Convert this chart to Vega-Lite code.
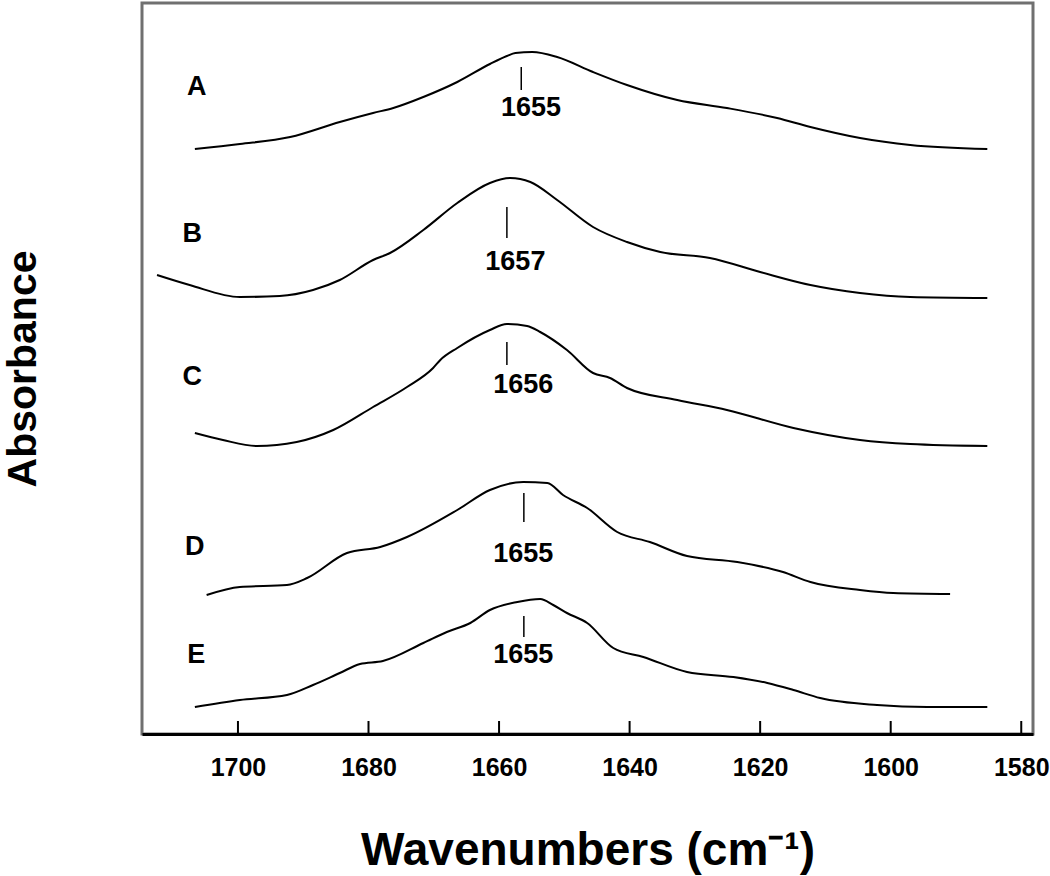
{
  "$schema": "https://vega.github.io/schema/vega-lite/v6.json",
  "autosize": "none",
  "width": 891,
  "height": 731,
  "padding": {"left": 142, "top": 3, "right": 17, "bottom": 142},
  "background": "white",
  "config": {
    "font": "Liberation Sans",
    "view": {"stroke": null},
    "axis": {"grid": false}
  },
  "datasets": {
    "curves": [
      {"series": "A", "wn": 1706.6, "abs": 5.85},
      {"series": "A", "wn": 1699.7, "abs": 5.90},
      {"series": "A", "wn": 1692.0, "abs": 5.97},
      {"series": "A", "wn": 1684.4, "abs": 6.12},
      {"series": "A", "wn": 1679.3, "abs": 6.21},
      {"series": "A", "wn": 1676.2, "abs": 6.26},
      {"series": "A", "wn": 1671.6, "abs": 6.37},
      {"series": "A", "wn": 1666.4, "abs": 6.52},
      {"series": "A", "wn": 1661.4, "abs": 6.70},
      {"series": "A", "wn": 1658.8, "abs": 6.78},
      {"series": "A", "wn": 1657.5, "abs": 6.81},
      {"series": "A", "wn": 1654.9, "abs": 6.82},
      {"series": "A", "wn": 1651.1, "abs": 6.77},
      {"series": "A", "wn": 1645.6, "abs": 6.62},
      {"series": "A", "wn": 1640.4, "abs": 6.49},
      {"series": "A", "wn": 1632.7, "abs": 6.34},
      {"series": "A", "wn": 1625.1, "abs": 6.26},
      {"series": "A", "wn": 1617.4, "abs": 6.16},
      {"series": "A", "wn": 1612.3, "abs": 6.07},
      {"series": "A", "wn": 1604.7, "abs": 5.96},
      {"series": "A", "wn": 1597.0, "abs": 5.89},
      {"series": "A", "wn": 1585.2, "abs": 5.85},

      {"series": "B", "wn": 1712.4, "abs": 4.59},
      {"series": "B", "wn": 1707.4, "abs": 4.49},
      {"series": "B", "wn": 1699.7, "abs": 4.37},
      {"series": "B", "wn": 1693.6, "abs": 4.38},
      {"series": "B", "wn": 1688.5, "abs": 4.44},
      {"series": "B", "wn": 1684.4, "abs": 4.54},
      {"series": "B", "wn": 1679.3, "abs": 4.74},
      {"series": "B", "wn": 1676.7, "abs": 4.81},
      {"series": "B", "wn": 1671.6, "abs": 5.04},
      {"series": "B", "wn": 1666.4, "abs": 5.31},
      {"series": "B", "wn": 1661.4, "abs": 5.51},
      {"series": "B", "wn": 1658.3, "abs": 5.56},
      {"series": "B", "wn": 1655.2, "abs": 5.52},
      {"series": "B", "wn": 1651.1, "abs": 5.34},
      {"series": "B", "wn": 1645.6, "abs": 5.07},
      {"series": "B", "wn": 1640.4, "abs": 4.92},
      {"series": "B", "wn": 1635.3, "abs": 4.82},
      {"series": "B", "wn": 1627.7, "abs": 4.76},
      {"series": "B", "wn": 1620.0, "abs": 4.62},
      {"series": "B", "wn": 1612.3, "abs": 4.49},
      {"series": "B", "wn": 1604.7, "abs": 4.41},
      {"series": "B", "wn": 1597.0, "abs": 4.37},
      {"series": "B", "wn": 1585.2, "abs": 4.36},

      {"series": "C", "wn": 1706.6, "abs": 3.01},
      {"series": "C", "wn": 1702.3, "abs": 2.94},
      {"series": "C", "wn": 1697.1, "abs": 2.88},
      {"series": "C", "wn": 1691.0, "abs": 2.92},
      {"series": "C", "wn": 1685.4, "abs": 3.04},
      {"series": "C", "wn": 1679.3, "abs": 3.27},
      {"series": "C", "wn": 1674.1, "abs": 3.47},
      {"series": "C", "wn": 1670.1, "abs": 3.66},
      {"series": "C", "wn": 1669.0, "abs": 3.74},
      {"series": "C", "wn": 1666.4, "abs": 3.86},
      {"series": "C", "wn": 1661.4, "abs": 4.04},
      {"series": "C", "wn": 1658.8, "abs": 4.10},
      {"series": "C", "wn": 1655.7, "abs": 4.08},
      {"series": "C", "wn": 1653.7, "abs": 4.02},
      {"series": "C", "wn": 1649.6, "abs": 3.84},
      {"series": "C", "wn": 1645.6, "abs": 3.61},
      {"series": "C", "wn": 1643.0, "abs": 3.56},
      {"series": "C", "wn": 1640.4, "abs": 3.46},
      {"series": "C", "wn": 1632.7, "abs": 3.34},
      {"series": "C", "wn": 1625.1, "abs": 3.24},
      {"series": "C", "wn": 1614.9, "abs": 3.06},
      {"series": "C", "wn": 1604.7, "abs": 2.94},
      {"series": "C", "wn": 1597.0, "abs": 2.90},
      {"series": "C", "wn": 1585.2, "abs": 2.88},

      {"series": "D", "wn": 1704.8, "abs": 1.39},
      {"series": "D", "wn": 1699.7, "abs": 1.47},
      {"series": "D", "wn": 1692.5, "abs": 1.49},
      {"series": "D", "wn": 1689.4, "abs": 1.56},
      {"series": "D", "wn": 1683.3, "abs": 1.81},
      {"series": "D", "wn": 1678.2, "abs": 1.87},
      {"series": "D", "wn": 1674.1, "abs": 1.97},
      {"series": "D", "wn": 1666.4, "abs": 2.24},
      {"series": "D", "wn": 1661.4, "abs": 2.44},
      {"series": "D", "wn": 1656.3, "abs": 2.52},
      {"series": "D", "wn": 1652.6, "abs": 2.51},
      {"series": "D", "wn": 1650.2, "abs": 2.39},
      {"series": "D", "wn": 1646.5, "abs": 2.26},
      {"series": "D", "wn": 1641.9, "abs": 2.02},
      {"series": "D", "wn": 1636.9, "abs": 1.92},
      {"series": "D", "wn": 1631.2, "abs": 1.78},
      {"series": "D", "wn": 1623.5, "abs": 1.72},
      {"series": "D", "wn": 1616.5, "abs": 1.62},
      {"series": "D", "wn": 1612.3, "abs": 1.52},
      {"series": "D", "wn": 1604.7, "abs": 1.44},
      {"series": "D", "wn": 1599.6, "abs": 1.41},
      {"series": "D", "wn": 1590.9, "abs": 1.40},

      {"series": "E", "wn": 1706.6, "abs": 0.27},
      {"series": "E", "wn": 1699.7, "abs": 0.34},
      {"series": "E", "wn": 1692.5, "abs": 0.39},
      {"series": "E", "wn": 1688.5, "abs": 0.49},
      {"series": "E", "wn": 1684.4, "abs": 0.61},
      {"series": "E", "wn": 1681.3, "abs": 0.70},
      {"series": "E", "wn": 1677.8, "abs": 0.73},
      {"series": "E", "wn": 1671.6, "abs": 0.91},
      {"series": "E", "wn": 1668.0, "abs": 1.02},
      {"series": "E", "wn": 1664.4, "abs": 1.11},
      {"series": "E", "wn": 1661.4, "abs": 1.24},
      {"series": "E", "wn": 1657.2, "abs": 1.32},
      {"series": "E", "wn": 1653.7, "abs": 1.35},
      {"series": "E", "wn": 1651.7, "abs": 1.29},
      {"series": "E", "wn": 1649.6, "abs": 1.21},
      {"series": "E", "wn": 1646.5, "abs": 1.11},
      {"series": "E", "wn": 1642.5, "abs": 0.86},
      {"series": "E", "wn": 1637.9, "abs": 0.77},
      {"series": "E", "wn": 1631.2, "abs": 0.62},
      {"series": "E", "wn": 1624.1, "abs": 0.57},
      {"series": "E", "wn": 1618.9, "abs": 0.51},
      {"series": "E", "wn": 1614.9, "abs": 0.44},
      {"series": "E", "wn": 1610.8, "abs": 0.36},
      {"series": "E", "wn": 1602.1, "abs": 0.29},
      {"series": "E", "wn": 1594.4, "abs": 0.27},
      {"series": "E", "wn": 1585.2, "abs": 0.27}
    ],
    "markers": [
      {"series": "A", "wn": 1656.6, "top": 6.67, "bottom": 6.44},
      {"series": "B", "wn": 1658.8, "top": 5.27, "bottom": 4.96},
      {"series": "C", "wn": 1658.8, "top": 3.92, "bottom": 3.69},
      {"series": "D", "wn": 1656.2, "top": 2.41, "bottom": 2.12},
      {"series": "E", "wn": 1656.2, "top": 1.18, "bottom": 0.97}
    ],
    "peaks": [
      {"label": "1655", "wn": 1655.1, "abs": 6.26},
      {"label": "1657", "wn": 1657.5, "abs": 4.72},
      {"label": "1656", "wn": 1656.3, "abs": 3.49},
      {"label": "1655", "wn": 1656.3, "abs": 1.80},
      {"label": "1655", "wn": 1656.3, "abs": 0.79}
    ],
    "letters": [
      {"label": "A", "wn": 1706.3, "abs": 6.47},
      {"label": "B", "wn": 1707.0, "abs": 5.00},
      {"label": "C", "wn": 1707.0, "abs": 3.57},
      {"label": "D", "wn": 1706.6, "abs": 1.87},
      {"label": "E", "wn": 1706.4, "abs": 0.79}
    ],
    "tickvals": [
      {"wn": 1580, "lo": 0, "hi": 0.13}, {"wn": 1600, "lo": 0, "hi": 0.13},
      {"wn": 1620, "lo": 0, "hi": 0.13}, {"wn": 1640, "lo": 0, "hi": 0.13},
      {"wn": 1660, "lo": 0, "hi": 0.13}, {"wn": 1680, "lo": 0, "hi": 0.13},
      {"wn": 1700, "lo": 0, "hi": 0.13}
    ],
    "frame": [
      {"x1": 1714.7, "x2": 1578.2, "y1": 0, "y2": 7.31}
    ]
  },
  "encoding": {
    "x": {
      "field": "wn",
      "type": "quantitative",
      "scale": {"domain": [1578.2, 1714.7], "reverse": true, "nice": false, "zero": false},
      "axis": {
        "title": "Wavenumbers (cm⁻¹)",
        "values": [1580, 1600, 1620, 1640, 1660, 1680, 1700],
        "format": "d",
        "zindex": 1,
        "domainColor": "black",
        "domainWidth": 3,
        "tickColor": "black",
        "tickWidth": 2,
        "tickSize": 10,
        "tickOpacity": 0,
        "labelFont": "Liberation Sans",
        "labelFontSize": 25,
        "labelFontWeight": "bold",
        "labelColor": "black",
        "labelPadding": 11,
        "labelFlush": false,
        "labelOverlap": false,
        "titleFont": "Liberation Sans",
        "titleFontSize": 46,
        "titleFontWeight": "bold",
        "titleColor": "black",
        "titleBaseline": "alphabetic",
        "titleY": 130,
        "titleX": 445.5,
        "titleAlign": "center"
      }
    },
    "y": {
      "field": "abs",
      "type": "quantitative",
      "scale": {"domain": [0, 7.31], "nice": false, "zero": false},
      "axis": {
        "title": "Absorbance",
        "domain": false,
        "ticks": false,
        "labels": false,
        "titleFont": "Liberation Sans",
        "titleFontSize": 41,
        "titleFontWeight": "bold",
        "titleColor": "black",
        "titleAngle": 270,
        "titleAlign": "center",
        "titleBaseline": "middle",
        "titleX": -119,
        "titleY": 365.5
      }
    }
  },
  "layer": [
    {
      "data": {"name": "frame"},
      "mark": {"type": "rect", "filled": false, "stroke": "#707070", "strokeWidth": 3},
      "encoding": {
        "x": {"field": "x1", "type": "quantitative"},
        "x2": {"field": "x2"},
        "y": {"field": "y1", "type": "quantitative"},
        "y2": {"field": "y2"}
      }
    },
    {
      "data": {"name": "curves"},
      "mark": {"type": "line", "color": "black", "strokeWidth": 2, "interpolate": "monotone"},
      "encoding": {"detail": {"field": "series", "type": "nominal"}}
    },
    {
      "data": {"name": "markers"},
      "mark": {"type": "rule", "color": "black", "strokeWidth": 1.5},
      "encoding": {
        "y": {"field": "top", "type": "quantitative"},
        "y2": {"field": "bottom"}
      }
    },
    {
      "data": {"name": "tickvals"},
      "mark": {"type": "rule", "color": "black", "strokeWidth": 2},
      "encoding": {
        "y": {"field": "lo", "type": "quantitative"},
        "y2": {"field": "hi"}
      }
    },
    {
      "data": {"name": "peaks"},
      "mark": {"type": "text", "font": "Liberation Sans", "fontSize": 27, "fontWeight": "bold", "color": "black", "align": "center", "baseline": "middle"},
      "encoding": {"text": {"field": "label", "type": "nominal"}}
    },
    {
      "data": {"name": "letters"},
      "mark": {"type": "text", "font": "Liberation Sans", "fontSize": 27, "fontWeight": "bold", "color": "black", "align": "center", "baseline": "middle"},
      "encoding": {"text": {"field": "label", "type": "nominal"}}
    }
  ]
}
